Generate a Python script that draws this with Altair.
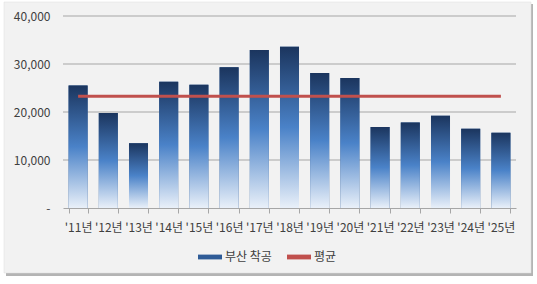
import altair as alt
import pandas as pd

years = ["'11년", "'12년", "'13년", "'14년", "'15년", "'16년", "'17년", "'18년",
         "'19년", "'20년", "'21년", "'22년", "'23년", "'24년", "'25년"]
starts = [25500, 19800, 13500, 26300, 25700, 29300, 32900, 33600,
          28100, 27100, 16900, 17800, 19200, 16500, 15700]
average = 23300
series_names = ["부산 착공", "평균"]
y_ticks = [10000, 20000, 30000, 40000]

FONT = "Noto Sans CJK KR"
TXT = "#404040"
GRID = "#a6a6a6"
W, H = 453, 192

df = pd.DataFrame({"year": years, "value": starts, "avg": [average] * len(years),
                   "series": [series_names[0]] * len(years)})
grid_df = pd.DataFrame({"tick": y_ticks})

xenc = alt.X("year:N", sort=years, title=None,
             scale=alt.Scale(paddingInner=0.37, paddingOuter=0.185),
             axis=alt.Axis(labelAngle=0, labelFont=FONT, labelFontSize=12, labelColor=TXT,
                           labelOverlap=False, tickBand="extent", tickSize=5, tickColor=GRID,
                           domainColor=GRID, labelPadding=9, grid=False, zindex=1))
yscale = alt.Scale(domain=[0, 40000])
yenc = alt.Y("value:Q", scale=yscale, title=None,
             axis=alt.Axis(values=[0] + y_ticks, domain=False, ticks=False, tickSize=0,
                           labelPadding=13, grid=False, labelFont=FONT, labelFontSize=12,
                           labelColor=TXT,
                           labelExpr="datum.value == 0 ? '-' : format(datum.value, ',')",
                           zindex=1))

one = alt.Data(values=[{"k": 1}])
shadow = alt.Chart(one).mark_rect(color="#b4b4b4").encode(
    x=alt.value(-57), x2=alt.value(470), y=alt.value(-12), y2=alt.value(260))
frame = alt.Chart(one).mark_rect(color="#f2f2f2", stroke="#dcdcdc", strokeWidth=0.5).encode(
    x=alt.value(-59), x2=alt.value(468), y=alt.value(-14), y2=alt.value(257))

grid = alt.Chart(grid_df).mark_rule(color=GRID, strokeWidth=1).encode(
    y=alt.Y("tick:Q", scale=yscale), x=alt.value(0), x2=alt.value(W))

base = alt.Chart(df)
bars_solid = base.mark_bar(size=19).encode(
    x=xenc, y=yenc,
    color=alt.Color("series:N", scale=alt.Scale(domain=series_names, range=["#2f5c97", "#c0504d"]),
                    legend=alt.Legend(title=None, orient="none", direction="horizontal",
                                      legendX=134, legendY=228, padding=0,
                                      symbolType="M-1,-0.2H1V0.2H-1Z", symbolSize=576,
                                      labelFont=FONT, labelFontSize=12, labelColor=TXT,
                                      labelOffset=2, columnPadding=14, zindex=1)))
grad = alt.Gradient(gradient="linear", x1=0, x2=0, y1=0, y2=1,
                    stops=[alt.GradientStop(color="#1b355e", offset=0),
                           alt.GradientStop(color="#4a82c8", offset=0.5),
                           alt.GradientStop(color="#e9f0f9", offset=1)])
bars_grad = base.mark_bar(fill=grad).encode(x=xenc, y=yenc)
line = base.mark_line(color="#c0504d", strokeWidth=3).encode(
    x=xenc, y=alt.Y("avg:Q", scale=yscale))

chart = alt.layer(shadow, frame, grid, bars_solid, bars_grad, line).properties(
    width=W, height=H,
    autosize=alt.AutoSizeParams(type="none"),
    padding={"left": 63, "top": 16, "right": 21, "bottom": 76},
    background="white",
).configure_view(stroke=None)

chart.save("out.html", embed_options={"renderer": "svg", "actions": False})
